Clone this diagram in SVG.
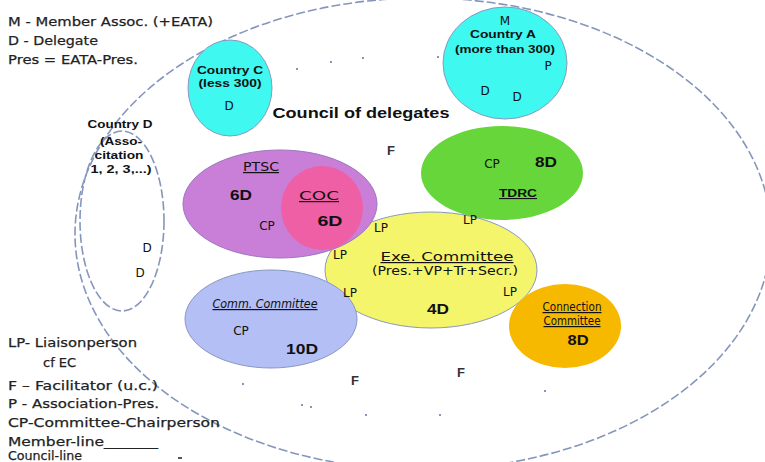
<svg xmlns="http://www.w3.org/2000/svg" width="765" height="462" viewBox="0 0 765 462">
<style>
.leg{font-family:"DejaVu Sans",sans-serif;font-size:13px;fill:#222;stroke:#222;stroke-width:0.25}
.lbl{font-family:"Liberation Sans",Arial,sans-serif;font-weight:bold;font-size:11px;fill:#111;text-anchor:middle}
.t{font-family:"DejaVu Sans",sans-serif;font-size:12px;fill:#111;text-anchor:middle}
.b{font-family:"Liberation Sans",Arial,sans-serif;font-weight:bold;font-size:15px;fill:#111;text-anchor:middle}
.f{font-family:"Liberation Sans",Arial,sans-serif;font-weight:bold;font-size:13px;fill:#333;text-anchor:middle}
.line{fill:none;stroke:#8596bd;stroke-width:1.6;stroke-dasharray:9 3}
.edge{stroke:#8a98c0;stroke-width:1}
.dot{fill:#8596bd}
</style>
<rect width="765" height="462" fill="#ffffff"/>

<g id="connectors">
  <ellipse id="council-line" class="line" cx="423" cy="234" rx="348" ry="236"/>
  <rect class="dot" x="296" y="68" width="2" height="2"/>
  <rect class="dot" x="330" y="61" width="2" height="2"/>
  <rect class="dot" x="362" y="57" width="2" height="2"/>
  <rect class="dot" x="437" y="56" width="2" height="2"/>
  <rect class="dot" x="242" y="383" width="2" height="2"/>
  <rect class="dot" x="301" y="404" width="2" height="2"/>
  <rect class="dot" x="310" y="406" width="2" height="2"/>
  <rect class="dot" x="365" y="414" width="2" height="2"/>
  <rect class="dot" x="439" y="414" width="2" height="2"/>
  <rect class="dot" x="544" y="390" width="2" height="2"/>
</g>

<g id="legend-top">
  <text class="leg" x="8" y="26" textLength="205" lengthAdjust="spacingAndGlyphs">M - Member Assoc. (+EATA)</text>
  <text class="leg" x="8" y="45" textLength="90" lengthAdjust="spacingAndGlyphs">D - Delegate</text>
  <text class="leg" x="8" y="64" textLength="130" lengthAdjust="spacingAndGlyphs">Pres = EATA-Pres.</text>
</g>

<g id="legend-bottom">
  <text class="leg" x="8" y="347" textLength="129" lengthAdjust="spacingAndGlyphs">LP- Liaisonperson</text>
  <text class="leg" x="43" y="367">cf EC</text>
  <text class="leg" x="8" y="390" textLength="150" lengthAdjust="spacingAndGlyphs">F – Facilitator (u.c.)</text>
  <text class="leg" x="8" y="408" textLength="151" lengthAdjust="spacingAndGlyphs">P - Association-Pres.</text>
  <text class="leg" x="8" y="427" textLength="212" lengthAdjust="spacingAndGlyphs">CP-Committee-Chairperson</text>
  <text class="leg" x="8" y="446" textLength="150" lengthAdjust="spacingAndGlyphs">Member-line_______</text>
  <text class="leg" x="8" y="460" textLength="74" lengthAdjust="spacingAndGlyphs">Council-line</text>
  <rect x="178" y="457" width="4" height="2" fill="#555"/>
</g>

<g id="country-d">
  <ellipse class="line" cx="122" cy="221" rx="42" ry="90"/>
  <text class="lbl" x="120" y="128" textLength="65" lengthAdjust="spacingAndGlyphs">Country D</text>
  <text class="lbl" x="121" y="145" textLength="42" lengthAdjust="spacingAndGlyphs">(Asso-</text>
  <text class="lbl" x="119" y="159" textLength="49" lengthAdjust="spacingAndGlyphs">citation</text>
  <text class="lbl" x="121" y="173" textLength="61" lengthAdjust="spacingAndGlyphs">1, 2, 3,...)</text>
  <text class="t" x="147" y="252" font-size="13">D</text>
  <text class="t" x="140" y="277" font-size="13">D</text>
</g>

<g id="country-c">
  <ellipse cx="230" cy="88" rx="42" ry="48" fill="#3ff8f0" class="edge"/>
  <text class="lbl" x="230" y="74" textLength="66" lengthAdjust="spacingAndGlyphs">Country C</text>
  <text class="lbl" x="230" y="87" textLength="63" lengthAdjust="spacingAndGlyphs">(less 300)</text>
  <text class="t" x="229" y="110" font-size="13">D</text>
</g>

<g id="country-a">
  <ellipse cx="505" cy="63" rx="62" ry="56" fill="#3ff8f0" class="edge"/>
  <text class="t" x="505" y="25" font-size="15">M</text>
  <text class="lbl" x="503" y="38" textLength="66" lengthAdjust="spacingAndGlyphs">Country A</text>
  <text class="lbl" x="505" y="53" textLength="100" lengthAdjust="spacingAndGlyphs">(more than 300)</text>
  <text class="t" x="548" y="70" font-size="14">P</text>
  <text class="t" x="485" y="95" font-size="13">D</text>
  <text class="t" x="517" y="101" font-size="13">D</text>
</g>

<g id="council-title">
  <text class="b" x="361" y="118" font-size="14" textLength="177" lengthAdjust="spacingAndGlyphs">Council of delegates</text>
  <text class="f" x="391" y="155">F</text>
</g>

<g id="tdrc">
  <ellipse cx="502" cy="173" rx="81" ry="47" fill="#66d63a"/>
  <text class="t" x="492" y="168">CP</text>
  <text class="b" x="546" y="167" textLength="22" lengthAdjust="spacingAndGlyphs">8D</text>
  <text class="lbl" x="518" y="197" font-size="12" text-decoration="underline" textLength="38" lengthAdjust="spacingAndGlyphs">TDRC</text>
</g>

<g id="exe-committee">
  <ellipse cx="431" cy="270" rx="106" ry="58" fill="#f5f56c" class="edge"/>
  <text class="t" x="447" y="261" font-size="15" text-decoration="underline" textLength="133" lengthAdjust="spacingAndGlyphs">Exe. Committee</text>
  <text class="t" x="445" y="275" font-size="13" textLength="146" lengthAdjust="spacingAndGlyphs">(Pres.+VP+Tr+Secr.)</text>
  <text class="b" x="438" y="314" font-size="14" textLength="22" lengthAdjust="spacingAndGlyphs">4D</text>
</g>

<g id="comm-committee">
  <ellipse cx="271" cy="319" rx="86" ry="49" fill="#b3bff5" class="edge"/>
  <text class="t" x="265" y="308" font-size="10" font-style="italic" fill="#303050" text-decoration="underline" textLength="105" lengthAdjust="spacingAndGlyphs">Comm. Committee</text>
  <text class="t" x="241" y="335">CP</text>
  <text class="b" x="302" y="354" textLength="32" lengthAdjust="spacingAndGlyphs">10D</text>
</g>

<g id="ptsc">
  <ellipse cx="280" cy="204" rx="97" ry="54" fill="#c97fd8" stroke="#9a78c0" stroke-width="1"/>
  <text class="t" x="261" y="171" fill="#503a60" text-decoration="underline" textLength="36" lengthAdjust="spacingAndGlyphs">PTSC</text>
  <text class="b" x="241" y="200" font-size="14" textLength="22" lengthAdjust="spacingAndGlyphs">6D</text>
  <text class="t" x="267" y="230">CP</text>
</g>

<g id="coc">
  <ellipse cx="322" cy="208" rx="41" ry="42" fill="#ee5fa6"/>
  <text class="t" x="319" y="200" font-size="15" fill="#2a1020" text-decoration="underline" textLength="40" lengthAdjust="spacingAndGlyphs">COC</text>
  <text class="b" x="330" y="226" textLength="25" lengthAdjust="spacingAndGlyphs">6D</text>
</g>

<g id="connection-committee">
  <ellipse cx="565" cy="326" rx="56" ry="42" fill="#f7b800"/>
  <text class="t" x="572" y="311" font-size="10" fill="#302010" text-decoration="underline" textLength="59" lengthAdjust="spacingAndGlyphs">Connection</text>
  <text class="t" x="572" y="325" font-size="10" fill="#302010" text-decoration="underline" textLength="57" lengthAdjust="spacingAndGlyphs">Committee</text>
  <text class="b" x="578" y="345" font-size="14" textLength="21" lengthAdjust="spacingAndGlyphs">8D</text>
</g>

<g id="liaison-persons">
  <text class="t" x="381" y="232">LP</text>
  <text class="t" x="470" y="224">LP</text>
  <text class="t" x="340" y="259">LP</text>
  <text class="t" x="350" y="297">LP</text>
  <text class="t" x="510" y="296">LP</text>
</g>

<g id="facilitators">
  <text class="f" x="355" y="385">F</text>
  <text class="f" x="461" y="377">F</text>
</g>
</svg>
